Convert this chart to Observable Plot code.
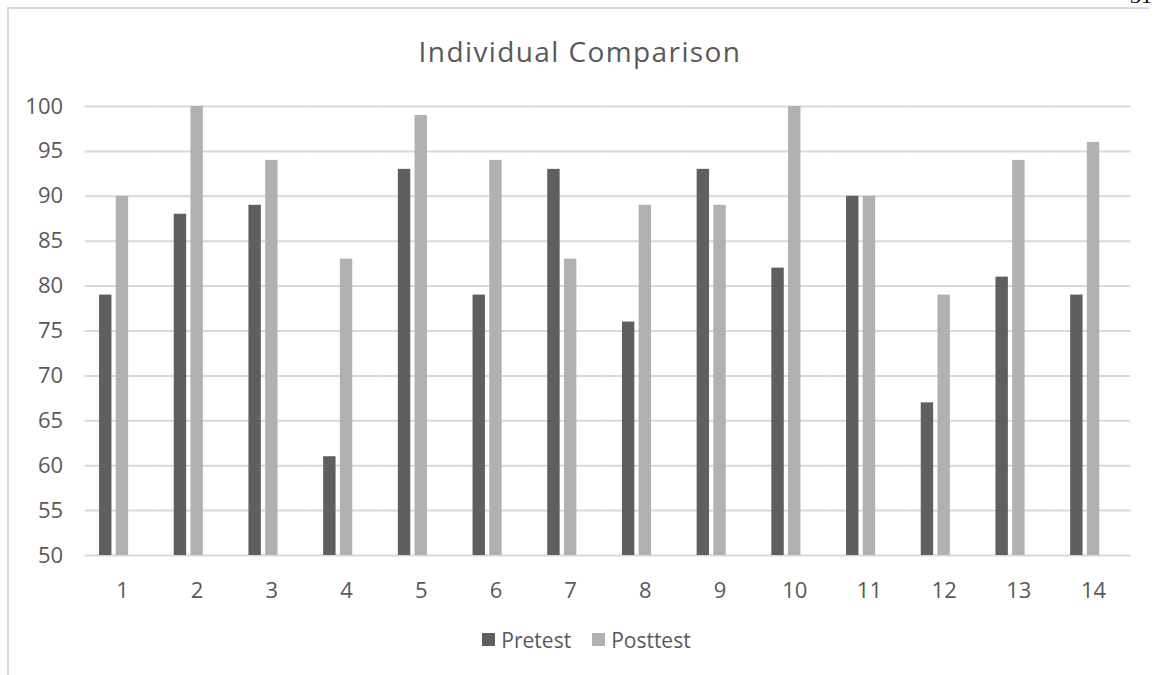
<!DOCTYPE html>
<html>
<head>
<meta charset="utf-8">
<script src="https://cdn.jsdelivr.net/npm/d3@7"></script>
<script src="https://cdn.jsdelivr.net/npm/@observablehq/plot@0.6"></script>
<style>
  html, body { margin: 0; padding: 0; background: #fff; }
  body { width: 1157px; height: 675px; position: relative; overflow: hidden; font-family: "Open Sans", sans-serif; }
  #frame { position: absolute; left: 7px; top: 7px; width: 1140px; height: 720px;
           border-top: 2.5px solid #d9d9d9; border-left: 2.5px solid #d9d9d9; }
  #page { position: absolute; left: 1130px; top: -15.4px; font-family: "Liberation Serif", serif;
          font-size: 22px; line-height: 1; color: #000; }
  #title { position: absolute; left: 0; top: 37.4px; width: 1160px; text-align: center;
           font-size: 28px; letter-spacing: 1.4px; line-height: 1; color: #595959; }
  #chart { position: absolute; left: 0; top: 0; }
  #legend { position: absolute; left: 8px; top: 623px; width: 1157px; display: flex; justify-content: center; }
  .lg-swatch > svg { margin-right: 6px !important; }
  .lg-swatch { margin-right: 21px !important; }
  .lg-swatch:last-child { margin-right: 0 !important; }
</style>
</head>
<body>
<div id="frame"></div>
<div id="page">31</div>
<div id="title">Individual Comparison</div>
<div id="chart"></div>
<div id="legend"></div>
<script>
// Students 1–14, scores before and after
const categories = ["1", "2", "3", "4", "5", "6", "7", "8", "9", "10", "11", "12", "13", "14"];
const pretest  = [79, 88, 89, 61, 93, 79, 93, 76, 93, 82, 90, 67, 81, 79];
const posttest = [90, 100, 94, 83, 99, 94, 83, 89, 89, 100, 90, 79, 94, 96];
const series = ["Pretest", "Posttest"];
const yTicks = [50, 55, 60, 65, 70, 75, 80, 85, 90, 95, 100];

const rows = categories.flatMap((c, i) => [
  {cat: c, series: series[0], value: pretest[i]},
  {cat: c, series: series[1], value: posttest[i]}
]);

const colors = ["#5f5f5f", "#b1b1b1"];

const chart = Plot.plot({
  width: 1157,
  height: 620,
  marginTop: 106,
  marginBottom: 65,
  marginLeft: 84.6,
  marginRight: 26.6,
  style: {fontFamily: "Open Sans", fontSize: "22px", color: "#595959", background: "transparent"},
  fx: {domain: categories, padding: 0, round: false, axis: "bottom", tickSize: 0, tickPadding: 27, label: null},
  // a third, empty slot keeps each pair left of the category centre
  x: {domain: [...series, " "], paddingInner: 0.257, paddingOuter: 0.865, round: false, axis: null},
  y: {domain: [50, 100], ticks: yTicks, tickSize: 0, tickPadding: 22, label: null},
  color: {domain: series, range: colors},
  marks: [
    Plot.ruleY(yTicks, {stroke: "#d9d9d9", strokeWidth: 2}),
    Plot.barY(rows, {fx: "cat", x: "series", y1: () => 50, y2: "value", fill: "series"})
  ]
});
document.getElementById("chart").appendChild(chart);

const legend = Plot.legend({
  color: {domain: series, range: colors},
  swatchSize: 13,
  className: "lg",
  style: "font-family: 'Open Sans'; font-size: 21px; color: #595959; margin: 0;"
});
document.getElementById("legend").appendChild(legend);
</script>
</body>
</html>
